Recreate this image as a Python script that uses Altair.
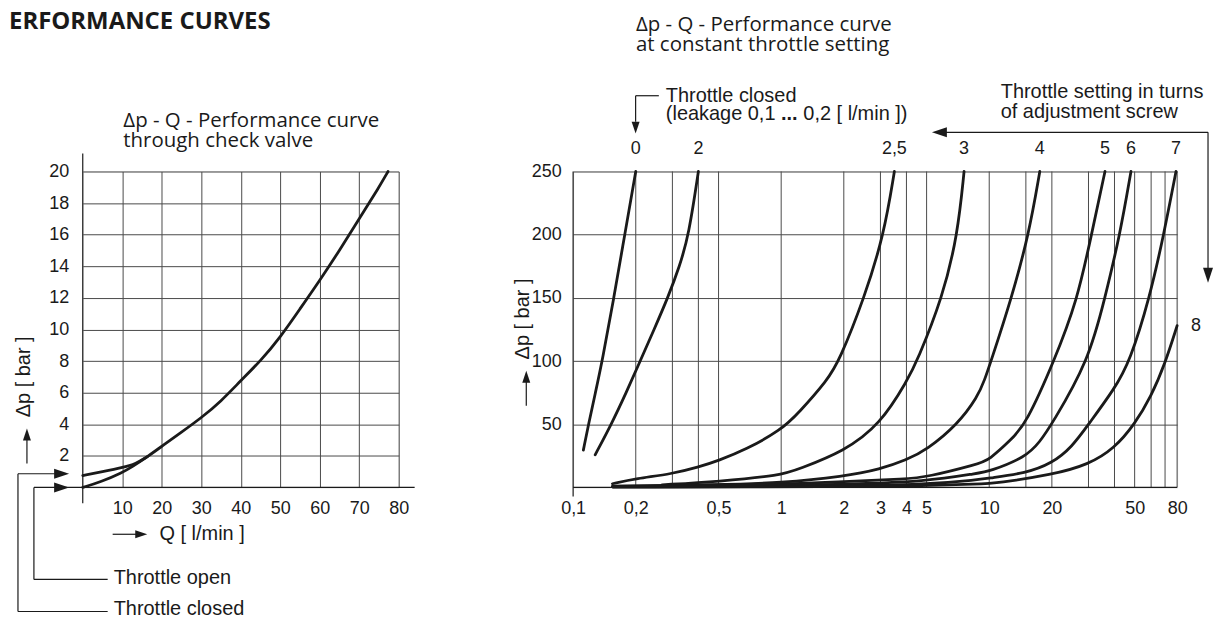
import altair as alt
import pandas as pd

FONT = "Liberation Sans"
TFONT = "Open Sans"
INK = "#1a1a1a"
GRID = "#4a4a4a"

# ---------------- left panel: Δp-Q through check valve ----------------
open_q = [0, 4.6, 10, 12.5, 16.4, 20, 25, 30, 35, 40, 45, 50, 55, 60, 65, 70, 75, 77.3]
open_dp = [0, 0.35, 0.94, 1.3, 1.95, 2.6, 3.5, 4.4, 5.45, 6.76, 8.0, 9.5, 11.3, 13.1, 15.0, 17.0, 19.0, 20.0]
closed_q = [0, 5, 10, 13.5, 16.4]
closed_dp = [0.75, 1.0, 1.25, 1.5, 1.95]
left_x_ticks = [10, 20, 30, 40, 50, 60, 70, 80]
left_y_ticks = [2, 4, 6, 8, 10, 12, 14, 16, 18, 20]

# ---------------- right panel: Δp-Q at constant throttle setting ----------------
turns = ["0", "2", "2,5", "3", "4", "5", "6", "7", "8"]
q_t0 = [0.112, 0.1186, 0.128, 0.138, 0.157, 0.177, 0.2]
dp_t0 = [29.5, 50, 75, 100, 150, 200, 250]
q_t2 = [0.1276, 0.1527, 0.18, 0.21, 0.245, 0.285, 0.325, 0.36, 0.4]
dp_t2 = [25.8, 50, 75, 100, 125, 150, 175, 200, 250]
q_t25 = [0.1545, 0.2, 0.3, 0.4, 0.5, 0.673, 1.0, 1.21, 1.67, 1.9, 2.51, 3.12, 3.5]
dp_t25 = [2.9, 6.9, 10.8, 16, 21.3, 29.7, 45.5, 58.7, 85, 100, 150, 200, 250]
q_t3 = [0.268, 0.5, 1.0, 1.21, 2.0, 3.0, 4.05, 4.5, 5.96, 7.05, 7.57]
dp_t3 = [2.1, 4.7, 9.5, 14.5, 28.4, 50, 85, 100, 150, 200, 250]
q_t4 = [0.155, 0.5, 1.0, 2.0, 3.0, 4.0, 5.0, 7.06, 8.8, 9.5, 10.2, 12.7, 15.5, 17.5]
dp_t4 = [1.0, 2.2, 3.6, 8.7, 14.5, 21.8, 29.7, 50, 71.8, 85, 100, 148, 200, 250]
q_t5 = [0.155, 1.0, 2.0, 4.0, 5.0, 8.8, 10, 12.7, 15, 20.5, 26.5, 31, 36]
dp_t5 = [0.8, 2.4, 4.7, 6.6, 8.2, 18.4, 21.8, 37.6, 50, 100, 148, 200, 250]
q_t6 = [0.155, 2.0, 5.0, 8.8, 10, 15, 17.5, 20, 30, 36, 42.5, 48]
dp_t6 = [0.6, 2.0, 4.7, 11.3, 12.6, 24, 36, 50, 100, 150, 200, 250]
q_t7 = [0.155, 2.0, 5.0, 8.8, 10, 15, 20, 25, 30, 40, 47.5, 59, 69, 79]
dp_t7 = [0.5, 0.8, 2.4, 6.0, 7.4, 11.3, 19, 32, 50, 78, 100, 150, 200, 250]
q_t8 = [0.155, 2.0, 5.0, 8.8, 11, 20, 30, 40, 50, 60, 70, 80]
dp_t8 = [0.3, 0.5, 1.3, 2.7, 3.5, 10, 18, 31, 50, 72, 98, 128]
right_x_labels = [0.1, 0.2, 0.5, 1, 2, 3, 4, 5, 10, 20, 50, 80]
right_x_grid = [0.2, 0.3, 0.4, 0.5, 1, 2, 3, 4, 5, 10, 15, 20, 30, 40, 50, 60, 70, 80]
right_y_ticks = [50, 100, 150, 200, 250]

# ---------------- tables ----------------
left_df = pd.concat([
    pd.DataFrame({"Q": open_q, "dp": open_dp, "curve": "open"}),
    pd.DataFrame({"Q": closed_q, "dp": closed_dp, "curve": "closed"}),
])
series = [q_t0, q_t2, q_t25, q_t3, q_t4, q_t5, q_t6, q_t7, q_t8]
values = [dp_t0, dp_t2, dp_t25, dp_t3, dp_t4, dp_t5, dp_t6, dp_t7, dp_t8]
right_df = pd.concat([
    pd.DataFrame({"Q": q, "dp": d, "turns": t}) for t, q, d in zip(turns, series, values)
])
tops_df = pd.DataFrame({"Q": [q[-1] for q in series[:-1]], "turns": turns[:-1]})
end8_df = pd.DataFrame({"Q": [q_t8[-1]], "dp": [dp_t8[-1]], "turns": [turns[-1]]})
grid_df = pd.DataFrame({"Q": right_x_grid})

ONE = alt.Data(values=[{"k": 0}])

RIGHT_HEAD = "M-1,-0.667L1,0L-1,0.667Z"
LEFT_HEAD = "M1,-0.667L-1,0L1,0.667Z"
DOWN_HEAD = "M-0.667,-1L0,1L0.667,-1Z"
UP_HEAD = "M-0.667,1L0,-1L0.667,1Z"


def seg(x1, y1, x2, y2, width=1.2, color=INK, opacity=1):
    return alt.Chart(ONE).mark_rule(color=color, strokeWidth=width, opacity=opacity).encode(
        x=alt.value(x1), y=alt.value(y1), x2=alt.value(x2), y2=alt.value(y2))


def txt(s, x, y, size=20, font=FONT, align="left", baseline="alphabetic", angle=0, weight="normal"):
    return alt.Chart(ONE).mark_text(
        text=s, align=align, baseline=baseline, fontSize=size, font=font,
        angle=angle, fontWeight=weight, color=INK).encode(x=alt.value(x), y=alt.value(y))


def head(x, y, path, length):
    return alt.Chart(ONE).mark_point(
        shape=path, size=length * length, filled=True, color=INK, opacity=1, strokeWidth=0
    ).encode(x=alt.value(x), y=alt.value(y))


W_L, H = 317, 317
W_R = 606
CURVE = dict(color=INK, strokeWidth=2.8, interpolate="basis", strokeCap="round")

# ---------------- left view ----------------
lx = alt.Scale(domain=[0, 80], nice=False)
ly = alt.Scale(domain=[0, 20], nice=False)
lax_x = alt.Axis(values=left_x_ticks, grid=True, gridColor=GRID, gridWidth=1, domain=False,
                 ticks=False, tickSize=0, labelPadding=12, labelFontSize=18, labelFont=FONT,
                 labelColor=INK, labelFlush=False, labelOverlap=False, title=None)
lax_y = alt.Axis(values=left_y_ticks, grid=True, gridColor=GRID, gridWidth=1, domain=False,
                 ticks=False, tickSize=0, labelPadding=14, labelFontSize=18, labelFont=FONT,
                 labelColor=INK, labelOverlap=False, title=None)

left_curves = alt.Chart(left_df).mark_line(**CURVE).encode(
    x=alt.X("Q:Q", scale=lx, axis=lax_x),
    y=alt.Y("dp:Q", scale=ly, axis=lax_y),
    detail="curve:N",
)

left_layers = [
    seg(-73.5, -161.5, -73, -161.5, opacity=0),  # layout anchor (page 8,8)
    left_curves,
    seg(0, -18, 0, 333),                 # y axis line
    seg(-49, 317, 333, 317),             # x axis line (+ open arrow)
    head(-21.2, 317, RIGHT_HEAD, 15),
    seg(-49, 317, -49, 409.3),
    seg(-49, 409.3, 25, 409.3),
    txt("Throttle open", 31, 413.5),
    seg(-65, 303.3, -28, 303.3),         # closed arrow
    head(-21.2, 303.3, RIGHT_HEAD, 15),
    seg(-65, 303.3, -65, 441.5),
    seg(-65, 441.5, 25, 441.5),
    txt("Throttle closed", 31, 444.5),
    txt("ERFORMANCE CURVES", -74, -143, size=24, font=TFONT, weight="bold"),
    txt("\u0394p - Q - Performance curve", 40.7, -44.3, size=20.5, font=TFONT),
    txt("through check valve", 40.7, -24.3, size=20.5, font=TFONT),
    txt("\u0394p [ bar ]", -58.7, 206, size=20, align="center", baseline="middle", angle=270),
    seg(-56, 293, -56, 268),
    head(-56, 264, UP_HEAD, 12),
    seg(30, 364, 56, 364),
    head(58.7, 364, RIGHT_HEAD, 12),
    txt("Q [ l/min ]", 77, 364, size=20, baseline="middle"),
]
left = alt.layer(*left_layers).properties(width=W_L, height=H)

# ---------------- right view ----------------
rx = alt.Scale(type="log", domain=[0.1, 80], nice=False)
ry = alt.Scale(domain=[0, 250], nice=False)
rax_x = alt.Axis(values=right_x_labels, grid=False, domain=False, ticks=False, tickSize=0,
                 labelPadding=12, labelFontSize=18, labelFont=FONT, labelColor=INK,
                 labelFlush=False, labelOverlap=False, title=None,
                 labelExpr="replace(toString(datum.value), '.', ',')")
rax_y = alt.Axis(values=right_y_ticks, grid=True, gridColor=GRID, gridWidth=1, domain=False,
                 ticks=False, tickSize=0, labelPadding=12, labelFontSize=18, labelFont=FONT,
                 labelColor=INK, labelOverlap=False, title=None)

vgrid = alt.Chart(grid_df).mark_rule(color=GRID, strokeWidth=1).encode(
    x=alt.X("Q:Q", scale=rx, axis=rax_x))
right_curves = alt.Chart(right_df).mark_line(**CURVE).encode(
    x=alt.X("Q:Q", scale=rx, axis=rax_x),
    y=alt.Y("dp:Q", scale=ry, axis=rax_y),
    detail="turns:N",
)
top_labels = alt.Chart(tops_df).mark_text(
    fontSize=18, font=FONT, color=INK, baseline="alphabetic", align="center").encode(
    x=alt.X("Q:Q", scale=rx, axis=rax_x), y=alt.value(-17.5), text="turns:N")
end_label = alt.Chart(end8_df).mark_text(
    fontSize=18, font=FONT, color=INK, baseline="middle", align="left", dx=14).encode(
    x=alt.X("Q:Q", scale=rx, axis=rax_x), y=alt.Y("dp:Q", scale=ry, axis=rax_y), text="turns:N")

right_layers = [
    vgrid,
    seg(0, 0, 0, 326),
    seg(0, 317, W_R, 317),
    right_curves,
    top_labels,
    end_label,
    txt("\u0394p - Q - Performance curve", 63, -140.7, size=20.5, font=TFONT),
    txt("at constant throttle setting", 63, -120.7, size=20.5, font=TFONT),
    txt("Throttle closed", 93, -70),
    txt("(leakage 0,1", 93, -51.3),
    txt("...", 208.6, -51.3, weight="bold"),
    txt("0,2 [ l/min ])", 231, -51.3),
    seg(62.7, -76, 86, -76),
    seg(62.7, -76, 62.7, -50),
    head(62.7, -44, DOWN_HEAD, 12),
    txt("Throttle setting in turns", 429, -74),
    txt("of adjustment screw", 429, -53.3),
    seg(372, -39.3, 637, -39.3),
    head(367.5, -39.3, LEFT_HEAD, 15),
    seg(637, -39.3, 637, 100),
    head(637, 104.2, DOWN_HEAD, 15),
    txt("\u0394p [ bar ]", -50, 148, size=20, align="center", baseline="middle", angle=270),
    seg(-47, 235, -47, 210),
    head(-47, 206, UP_HEAD, 12),
]
right = alt.layer(*right_layers).properties(width=W_R, height=H)

chart = alt.hconcat(left, right, spacing=175, bounds="flush").properties(
    padding=0
).configure_view(stroke=None).configure(font=FONT)

chart.save("out.html", embed_options={"renderer": "svg", "actions": False})
